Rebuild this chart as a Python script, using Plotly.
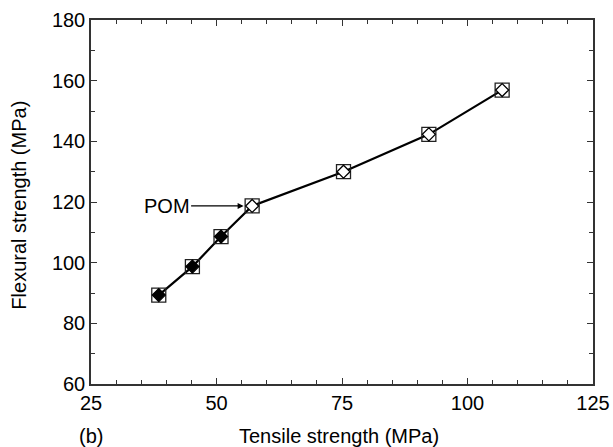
import plotly.graph_objects as go

# tensile vs flexural strength
tensile = [38.5, 45.2, 50.9, 57.1, 75.3, 92.3, 106.9]
flexural = [89.3, 98.7, 108.6, 118.7, 130.0, 142.3, 156.9]
filled = [True, True, True, False, False, False, False]

x_ticks = [25, 50, 75, 100, 125]
y_ticks = [60, 80, 100, 120, 140, 160, 180]

font = "Liberation Sans, Arial, sans-serif"
fsize = 20
txt = dict(size=fsize, color="black", family=font)

fig = go.Figure()

fig.add_trace(
    go.Scatter(
        x=tensile,
        y=flexural,
        mode="lines",
        line=dict(color="black", width=2.2),
        showlegend=False,
    )
)
fig.add_trace(
    go.Scatter(
        x=tensile,
        y=flexural,
        mode="markers",
        marker=dict(symbol="square-open", size=14, color="#222",
                    line=dict(width=1.3)),
        showlegend=False,
    )
)
fig.add_trace(
    go.Scatter(
        x=tensile,
        y=flexural,
        mode="markers",
        marker=dict(
            symbol="diamond",
            size=10,
            color=["black" if f else "white" for f in filled],
            line=dict(color="black", width=1.3),
        ),
        showlegend=False,
    )
)

fig.add_annotation(
    x=55.4, y=118.7, text="POM", showarrow=True,
    ax=-77, ay=0, arrowhead=2, arrowsize=1, arrowwidth=1.2,
    arrowcolor="black", standoff=0, font=txt,
)
fig.add_annotation(
    x=0, y=0, xref="paper", yref="paper", text="(b)", showarrow=False,
    yshift=-52, xanchor="center", yanchor="middle", font=txt,
)
# axis titles as annotations so they sit exactly where the original has them
fig.add_annotation(
    x=0.494, y=0, xref="paper", yref="paper", text="Tensile strength (MPa)",
    showarrow=False, yshift=-52, xanchor="center", yanchor="middle", font=txt,
)
fig.add_annotation(
    x=0, y=0.49, xref="paper", yref="paper", text="Flexural strength (MPa)",
    showarrow=False, xshift=-72, textangle=-90,
    xanchor="center", yanchor="middle", font=txt,
)

axis_common = dict(
    showline=True, linecolor="#333", linewidth=1.5, mirror="ticks",
    ticks="inside", ticklen=6, tickwidth=1.3, tickcolor="#333",
    showgrid=False, zeroline=False, automargin=False,
    ticklabeloverflow="allow", tickfont=txt,
)

fig.update_xaxes(
    range=[25, 125], tickvals=x_ticks,
    minor=dict(dtick=5, ticks="inside", ticklen=4, tickcolor="#333", showgrid=False),
    **axis_common,
)
fig.update_yaxes(
    range=[60, 180], tickvals=y_ticks,
    minor=dict(dtick=10, ticks="inside", ticklen=4, tickcolor="#333", showgrid=False),
    **axis_common,
)

fig.update_layout(
    width=613, height=447,
    margin=dict(l=91, r=20, t=20, b=63),
    plot_bgcolor="white", paper_bgcolor="white",
)

# drop the default page margin so the figure fills the window exactly
fig.write_html(
    "out.html",
    config={"displayModeBar": False},
    post_script="document.body.style.margin='0';document.body.style.overflow='hidden';",
)
